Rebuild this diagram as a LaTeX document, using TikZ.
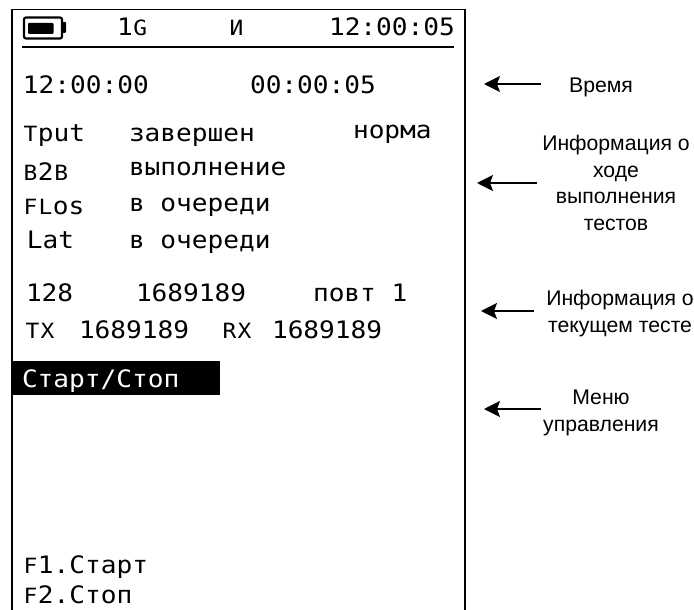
\documentclass[tikz,border=0pt]{standalone}
\usetikzlibrary{arrows.meta}
\usepackage{fontspec}
\setmainfont{Liberation Sans}
\newfontfamily\lcdfont[FakeStretch=1.09]{DejaVu Sans Mono}
\newcommand\lowcap[1]{\makebox[15pt]{\fontsize{21}{21}\selectfont #1}}
\begin{document}
\begin{tikzpicture}[x=1pt,y=-1pt,
  lcd/.style={anchor=base west,inner sep=0pt,outer sep=0pt,font=\lcdfont\fontsize{24}{24}\selectfont},
  note/.style={align=center,inner sep=0pt,font=\fontsize{21.2}{26.5}\selectfont},
  pointer/.style={line width=1.2pt,-{Stealth[length=16pt,width=16pt,inset=3pt]}}]
\useasboundingbox (0,0) rectangle (694,610);
\fill[white] (0,0) rectangle (694,610);
% screen frame
\draw[line width=1.3pt] (12,610) -- (12,9.5) -- (465,9.5) -- (465,610);
% status bar
\draw[line width=2.2pt,rounded corners=2pt] (24,17.5) rectangle (62,38.5);
\fill[rounded corners=1pt] (61,22) rectangle (66,33);
\fill[rounded corners=1pt] (28,23) rectangle (53.5,34);
\draw[line width=1.4pt] (22,47) -- (454,47);
\node[lcd] (speed) at (117,36) {1\lowcap{G}};
\node[lcd] (mode) at (229,36) {\lowcap{И}};
\node[lcd] (clock) at (329,36) {12:00:05};
\node[lcd] (start) at (23,93) {12:00:00};
\node[lcd] (elapsed) at (250,93) {00:00:05};
% tests
\node[lcd] (t1) at (23,142) {\lowcap{T}put};
\node[lcd] (s1) at (129,142) {завершен};
\node[lcd] (r1) at (353,138) {норма};
\node[lcd] (t2) at (23,180) {\lowcap{B}2\lowcap{B}};
\node[lcd] (s2) at (129,175.5) {выполнение};
\node[lcd] (t3) at (23,214) {\lowcap{F}\lowcap{L}os};
\node[lcd] (s3) at (129,211) {в очереди};
\node[lcd] (t4) at (27,248) {Lat};
\node[lcd] (s4) at (129,248) {в очереди};
% current test
\node[lcd] (size) at (26,301) {128};
\node[lcd] (count) at (136,301) {1689189};
\node[lcd] (rep) at (313,301) {повт 1};
\node[lcd] (txl) at (25,338) {\lowcap{T}\lowcap{X}};
\node[lcd] (tx) at (79,338) {1689189};
\node[lcd] (rxl) at (222,338) {\lowcap{R}\lowcap{X}};
\node[lcd] (rx) at (272,338) {1689189};
% menu
\fill (12,361) rectangle (220,395);
\node[lcd,text=white] (menu) at (22,387) {Старт/Стоп};
\node[lcd] (f1) at (23,573) {\lowcap{F}1.Старт};
\node[lcd] (f2) at (23,603) {\lowcap{F}2.Стоп};
% notes
\node[note] (n1) at (601,87) {Время};
\node[note] (n2) at (616,183) {Информация о\\ходе\\выполнения\\тестов};
\node[note] (n3) at (620,313.5) {Информация о\\текущем тесте};
\node[note] (n4) at (601,413) {Меню\\управления};
\coordinate (a1s) at (541,84); \coordinate (a1e) at (484,84);
\coordinate (a2s) at (537,183); \coordinate (a2e) at (477,183);
\coordinate (a3s) at (534,311); \coordinate (a3e) at (481,311);
\coordinate (a4s) at (541,409); \coordinate (a4e) at (484,409);
\foreach \a in {1,2,3,4} \draw[pointer] (a\a s) -- (a\a e);
\end{tikzpicture}
\end{document}
